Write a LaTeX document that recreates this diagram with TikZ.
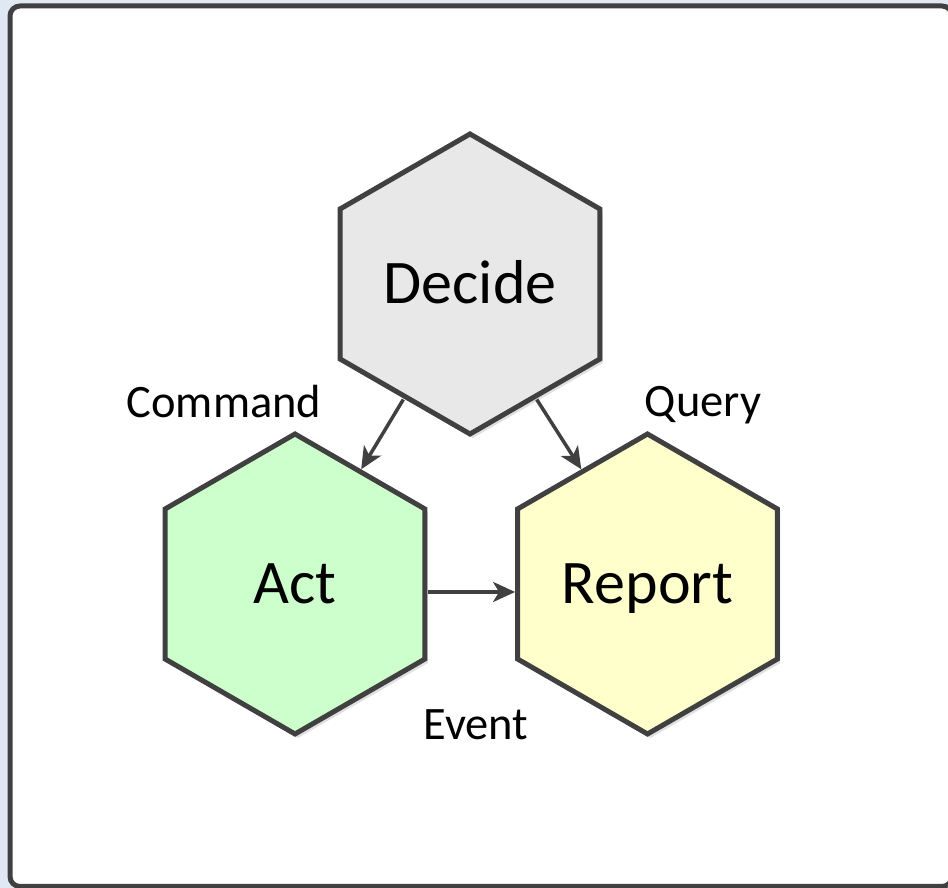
\documentclass[tikz,border=0pt]{standalone}
\usepackage{fontspec}
\setmainfont{Carlito}
\usetikzlibrary{shapes.geometric,arrows.meta,shadows}

\definecolor{edgegray}{HTML}{404040}
\definecolor{pagebg}{HTML}{E0E9F3}
\definecolor{decidefill}{HTML}{E8E8E8}
\definecolor{actfill}{HTML}{CCFFCC}
\definecolor{reportfill}{HTML}{FFFFCC}

\tikzset{
  hexa/.style={
    regular polygon, regular polygon sides=6, shape border rotate=90,
    minimum size=300pt, inner sep=0pt, line width=5pt, draw=edgegray,
    text height=40pt, text depth=0pt,
    font=\fontsize{62}{74}\selectfont,
    drop shadow={shadow xshift=3pt, shadow yshift=-4pt, fill=black, opacity=0.12}
  },
  flowlabel/.style={anchor=base, inner sep=0pt, font=\fontsize{46.5}{56}\selectfont},
  flow/.style={draw=edgegray, line width=3.5pt,
    -{Stealth[length=22pt, width=20pt, inset=6pt]}, shorten <=1pt},
}

\begin{document}
\begin{tikzpicture}[x=1pt, y=1pt]
  \useasboundingbox (0,0) rectangle (948,888);
  % page background and framed panel
  \fill[pagebg] (0,0) rectangle (948,888);
  \draw[edgegray, line width=5pt, fill=white, rounded corners=10pt]
    (10,1.5) rectangle (952,882);

  % the three stages
  \node[hexa, fill=decidefill] (decide) at (470,604) {Decide};
  \node[hexa, fill=actfill]    (act)    at (295,304) {Act};
  \node[hexa, fill=reportfill] (report) at (647.5,304) {Report};

  % flows between the stages
  \draw[flow] (decide.-120) -- (act.60);
  \draw[flow] (decide.-60) -- (report.120);
  \draw[flow] ([yshift=-8pt]act.east) -- ([yshift=-8pt]report.west);

  % flow labels
  \node[flowlabel] (cmd)   at (224,470) {Command};
  \node[flowlabel] (query) at (703,471) {Query};
  \node[flowlabel] (event) at (476,148) {Event};
\end{tikzpicture}
\end{document}
